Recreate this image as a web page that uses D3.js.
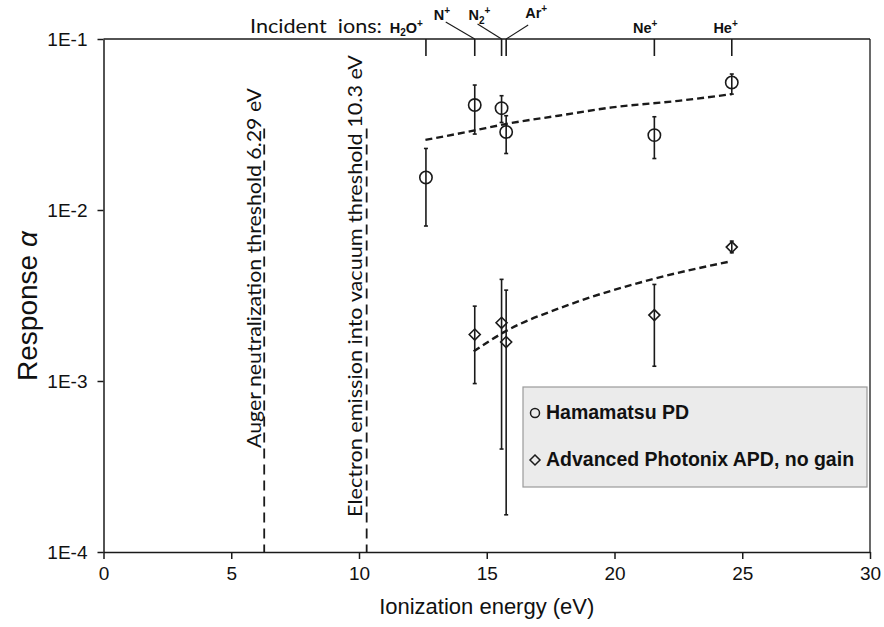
<!DOCTYPE html>
<html><head><meta charset="utf-8">
<script src="https://cdn.jsdelivr.net/npm/d3@7"></script>
<style>body{margin:0;background:#fff}svg{display:block}</style>
</head><body>
<script>
// ---------- data ----------
const xTicks = [0, 5, 10, 15, 20, 25, 30];
const yTicks = [1e-1, 1e-2, 1e-3, 1e-4];
const yTickLabels = ["1E-1", "1E-2", "1E-3", "1E-4"];

const ionNames = ["H2O", "N", "N2", "Ar", "Ne", "He"];
const ionEnergy = [12.62, 14.53, 15.58, 15.76, 21.56, 24.59];

const hamaE  = [12.62, 14.53, 15.58, 15.76, 21.56, 24.59];
const hamaV  = [0.0155, 0.0411, 0.0394, 0.0286, 0.0274, 0.0557];
const hamaLo = [0.00806, 0.0278, 0.0325, 0.0214, 0.0200, 0.0476];
const hamaHi = [0.0229, 0.0538, 0.0466, 0.0356, 0.0351, 0.0624];

const apdE  = [14.53, 15.58, 15.76, 21.56, 24.59];
const apdV  = [0.00187, 0.00219, 0.00169, 0.00243, 0.00607];
const apdLo = [0.000966, 0.000400, 0.000165, 0.00122, 0.00562];
const apdHi = [0.00274, 0.00393, 0.00340, 0.00367, 0.00658];

const hamaFitE = [12.6, 14.43, 15.73, 17.8, 19.9, 22.5, 24.6];
const hamaFitV = [0.0257, 0.0290, 0.0318, 0.0356, 0.0398, 0.0435, 0.0476];
const apdFitE = [14.49, 15.73, 18.07, 21.46, 24.58];
const apdFitV = [0.00149, 0.00195, 0.00274, 0.00393, 0.00502];

const thresholdE = [6.29, 10.3];
const thresholdTop = 0.03;
const thresholdLabels = ["Auger neutralization threshold 6.29 eV", "Electron emission into vacuum threshold 10.3 eV"];

const legendLabels = ["Hamamatsu PD", "Advanced Photonix APD, no gain"];

// ---------- layout ----------
const W = 884, H = 627;
const L = 103.5, R = 870, T = 39, B = 552;
const svg = d3.select("body").append("svg").attr("width", W).attr("height", H);
const x = d3.scaleLinear().domain([0, 30]).range([L, R]);
const y = d3.scaleLog().domain([1e-4, 1e-1]).range([B, T]);
const ink = "#1a1a1a";
const arial = "'Liberation Sans', Arial, sans-serif";
const calib = "Lato, 'Open Sans', sans-serif";

// axes
const xAxis = svg.append("g").attr("transform", `translate(0,${B})`)
  .call(d3.axisBottom(x).tickValues(xTicks).tickSize(7).tickSizeOuter(0).tickPadding(8));
const yAxis = svg.append("g").attr("transform", `translate(${L},0)`)
  .call(d3.axisLeft(y).tickValues(yTicks).tickFormat((d, i) => yTickLabels[i]).tickSize(6).tickSizeOuter(0).tickPadding(10));
[xAxis, yAxis].forEach(g => {
  g.selectAll("path,line").attr("stroke", ink).attr("stroke-width", 1.5);
  g.selectAll("text").attr("font-family", arial).attr("font-size", 19).attr("fill", "#111");
});
// top & right frame
svg.append("line").attr("x1", L).attr("x2", R).attr("y1", T).attr("y2", T).attr("stroke", ink).attr("stroke-width", 1.5);
svg.append("line").attr("x1", R).attr("x2", R).attr("y1", T).attr("y2", B).attr("stroke", ink).attr("stroke-width", 1.3);

// axis titles
svg.append("text").attr("x", (L + R) / 2).attr("y", 614).attr("text-anchor", "middle")
  .attr("font-family", arial).attr("font-size", 22).attr("fill", "#111").text("Ionization energy (eV)");
const yt = svg.append("text").attr("transform", `translate(37,306) rotate(-90)`).attr("text-anchor", "middle")
  .attr("font-family", arial).attr("font-size", 28).attr("fill", "#111");
yt.append("tspan").text("Response ");
yt.append("tspan").attr("font-style", "italic").text("α");

// top ion axis
svg.selectAll(".ionTick").data(ionEnergy).enter().append("line")
  .attr("x1", d => x(d)).attr("x2", d => x(d)).attr("y1", T).attr("y2", T + 17)
  .attr("stroke", ink).attr("stroke-width", 1.6);
svg.append("text").attr("x", 250).attr("y", 33).attr("font-family", calib).attr("font-size", 20)
  .attr("fill", "#111").attr("xml:space", "preserve")
  .attr("textLength", 132).attr("lengthAdjust", "spacingAndGlyphs").text("Incident  ions:");
const ionLayout = [
  {dx: -3, y: 33, anchor: "end", lead: null},
  {dx: -41, y: 20, anchor: "start", lead: [-29, 22]},
  {dx: -33, y: 20, anchor: "start", lead: [-24, 24]},
  {dx: 19, y: 18, anchor: "start", lead: [22, 25]},
  {dx: 3, y: 33, anchor: "end", lead: null},
  {dx: 6, y: 33, anchor: "end", lead: null}
];
ionNames.forEach((nm, i) => {
  const lay = ionLayout[i], tx = x(ionEnergy[i]);
  const t = svg.append("text").attr("x", tx + lay.dx).attr("y", lay.y).attr("text-anchor", lay.anchor)
    .attr("font-family", arial).attr("font-weight", "bold").attr("font-size", 14.5).attr("fill", "#111");
  if (nm === "H2O") {
    t.append("tspan").text("H");
    t.append("tspan").attr("font-size", 10).attr("dy", 3).text("2");
    t.append("tspan").attr("dy", -3).text("O");
  } else if (nm === "N2") {
    t.append("tspan").text("N");
    t.append("tspan").attr("font-size", 10).attr("dy", 4).text("2");
    t.append("tspan").attr("font-size", 10).attr("dy", -10).text("+");
  } else {
    t.append("tspan").text(nm);
  }
  if (nm !== "N2") t.append("tspan").attr("font-size", 10).attr("dy", -6).text("+");
  if (lay.lead) {
    svg.append("line").attr("x1", tx + lay.lead[0]).attr("y1", lay.lead[1]).attr("x2", tx).attr("y2", T)
      .attr("stroke", ink).attr("stroke-width", 1.1);
  }
});

// threshold lines + labels
thresholdE.forEach((e, i) => {
  svg.append("line").attr("x1", x(e)).attr("x2", x(e)).attr("y1", y(thresholdTop)).attr("y2", B)
    .attr("stroke", ink).attr("stroke-width", 1.8).attr("stroke-dasharray", "10,6");
});
svg.append("text").attr("transform", `translate(${x(6.29) - 3},448) rotate(-90)`)
  .attr("font-family", calib).attr("font-size", 20).attr("fill", "#111")
  .attr("textLength", 360).attr("lengthAdjust", "spacingAndGlyphs").text(thresholdLabels[0]);
svg.append("text").attr("transform", `translate(${x(10.3) - 5},517) rotate(-90)`)
  .attr("font-family", calib).attr("font-size", 20).attr("fill", "#111")
  .attr("textLength", 462).attr("lengthAdjust", "spacingAndGlyphs").text(thresholdLabels[1]);

// trend lines
const line = d3.line().x(d => x(d[0])).y(d => y(d[1])).curve(d3.curveMonotoneX);
svg.append("path").attr("d", line(hamaFitE.map((e, i) => [e, hamaFitV[i]])))
  .attr("fill", "none").attr("stroke", ink).attr("stroke-width", 2.4).attr("stroke-dasharray", "7,4");
svg.append("path").attr("d", line(apdFitE.map((e, i) => [e, apdFitV[i]])))
  .attr("fill", "none").attr("stroke", ink).attr("stroke-width", 2.4).attr("stroke-dasharray", "7,4");

// error bars
function errBars(E, lo, hi) {
  E.forEach((e, i) => {
    const cx = x(e);
    svg.append("line").attr("x1", cx).attr("x2", cx).attr("y1", y(lo[i])).attr("y2", y(hi[i]))
      .attr("stroke", ink).attr("stroke-width", 1.6);
    [lo[i], hi[i]].forEach(v => svg.append("line").attr("x1", cx - 2).attr("x2", cx + 2)
      .attr("y1", y(v)).attr("y2", y(v)).attr("stroke", ink).attr("stroke-width", 1.6));
  });
}
errBars(hamaE, hamaLo, hamaHi);
errBars(apdE, apdLo, apdHi);

// markers
const circ = d3.symbol().type(d3.symbolCircle).size(120);
const diam = (cx, cy, r) => `M${cx},${cy - r}L${cx + r},${cy}L${cx},${cy + r}L${cx - r},${cy}Z`;
hamaE.forEach((e, i) => svg.append("path").attr("d", circ()).attr("transform", `translate(${x(e)},${y(hamaV[i])})`)
  .attr("fill", "none").attr("stroke", ink).attr("stroke-width", 1.6));
apdE.forEach((e, i) => svg.append("path").attr("d", diam(x(e), y(apdV[i]), 5.5))
  .attr("fill", "none").attr("stroke", ink).attr("stroke-width", 1.6));

// legend
svg.append("rect").attr("x", 523).attr("y", 387).attr("width", 344).attr("height", 100)
  .attr("fill", "#ebebeb").attr("stroke", "#9a9a9a").attr("stroke-width", 1.2);
svg.append("circle").attr("cx", 535).attr("cy", 413).attr("r", 4.5).attr("fill", "none").attr("stroke", ink).attr("stroke-width", 1.5);
svg.append("path").attr("d", diam(535, 460, 5)).attr("fill", "none").attr("stroke", ink).attr("stroke-width", 1.5);
legendLabels.forEach((t, i) => svg.append("text").attr("x", 546).attr("y", 419 + i * 47)
  .attr("font-family", arial).attr("font-weight", "bold").attr("font-size", 19.5).attr("fill", "#111").text(t));
</script>
</body></html>
